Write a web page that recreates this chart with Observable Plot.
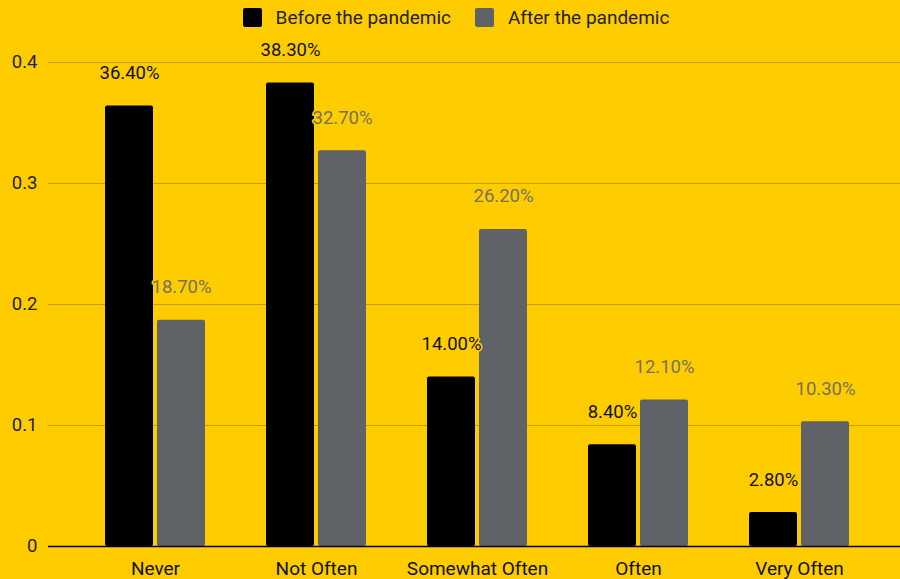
<!DOCTYPE html>
<html>
<head>
<meta charset="utf-8">
<script src="https://cdn.jsdelivr.net/npm/d3@7"></script>
<script src="https://cdn.jsdelivr.net/npm/@observablehq/plot@0.6"></script>
<style>
  html, body { margin: 0; padding: 0; background: #ffcc00; }
  body { width: 900px; height: 579px; overflow: hidden; font-family: Roboto, "Noto Sans", sans-serif; }
  #legend { height: 35px; display: flex; align-items: center; justify-content: center; padding-left: 12px; box-sizing: border-box; font-size: 19px; color: #222; }
  #legend .item { display: flex; align-items: center; margin: 0 12px; }
  #legend .sw { width: 19px; height: 19px; border-radius: 2px; margin-right: 14px; }
  #chart svg { display: block; }
</style>
</head>
<body>
<div id="legend"></div>
<div id="chart"></div>
<script>
// Frequency categories on the x axis
const categories = ["Never", "Not Often", "Somewhat Often", "Often", "Very Often"];
// Share of respondents in each category
const before = [0.364, 0.383, 0.140, 0.084, 0.028];
const after = [0.187, 0.327, 0.262, 0.121, 0.103];
const seriesNames = ["Before the pandemic", "After the pandemic"];
const seriesColors = ["#000000", "#5f6368"];
const labelColors = ["#111111", "#75715c"];
const yTicks = [0, 0.1, 0.2, 0.3, 0.4];

const rowsBefore = categories.map((c, i) => ({category: c, value: before[i]}));
const rowsAfter = categories.map((c, i) => ({category: c, value: after[i]}));

// Legend
const legend = document.getElementById("legend");
seriesNames.forEach((name, i) => {
  const item = document.createElement("div");
  item.className = "item";
  const sw = document.createElement("div");
  sw.className = "sw";
  sw.style.background = seriesColors[i];
  const label = document.createElement("span");
  label.textContent = name;
  item.append(sw, label);
  legend.append(item);
});

const pct = d3.format(".2%");
const halfGap = 26; // half the distance between paired bar centers
const fs = 18.5;

const chart = Plot.plot({
  width: 900,
  height: 544,
  marginTop: 27,
  marginBottom: 33,
  marginLeft: 48,
  marginRight: 0,
  style: {background: "#ffcc00", fontFamily: "Roboto, 'Noto Sans', sans-serif", fontSize: `${fs}px`, color: "#222"},
  x: {domain: categories, paddingInner: 0.379, paddingOuter: 0.1895, insetLeft: 26.5, insetRight: 20.5, label: null},
  y: {domain: [0, 0.4], ticks: yTicks, label: null},
  marks: [
    Plot.ruleY(yTicks.filter(t => t > 0), {stroke: "#c49d00", strokeWidth: 1.2}),
    Plot.barY(rowsBefore, {x: "category", y: "value", fill: seriesColors[0], insetRight: 52, rx: 2}),
    Plot.barY(rowsAfter, {x: "category", y: "value", fill: seriesColors[1], insetLeft: 52, rx: 2}),
    Plot.ruleY([0], {stroke: "#000", strokeWidth: 1.3}),
    Plot.text(rowsBefore, {x: "category", y: "value", text: d => pct(d.value), dx: -halfGap, dy: -33, fill: labelColors[0], stroke: "#ffcc00", strokeWidth: 3, fontSize: fs}),
    Plot.text(rowsAfter, {x: "category", y: "value", text: d => pct(d.value), dx: halfGap, dy: -33, fill: labelColors[1], stroke: "#ffcc00", strokeWidth: 3, fontSize: fs}),
    Plot.axisY({ticks: yTicks, tickSize: 0, tickPadding: 11, tickFormat: d => d === 0 ? "0" : d3.format(".1f")(d), fontSize: fs, fill: "#222"}),
    Plot.axisX({tickSize: 0, tickPadding: 15, fontSize: 19, fill: "#111"})
  ]
});
document.getElementById("chart").append(chart);
</script>
</body>
</html>
